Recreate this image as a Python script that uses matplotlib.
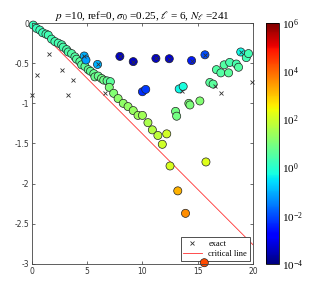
import numpy as np
import matplotlib
matplotlib.use("Agg")
import matplotlib.pyplot as plt
from matplotlib.colors import LogNorm

# computed eigenvalues: real part, imag part, log10 of condition value
re_pts = [0.12, 0.42, 0.72, 0.97, 1.27, 1.48, 1.78, 2.08, 2.38, 2.69, 2.83, 3.14, 3.29, 3.59,
          3.89, 4.04, 4.34, 4.5, 4.8, 5.1, 5.3, 5.6, 5.7, 6.0, 6.3, 6.5, 6.8, 7.1,
          7.0, 7.4, 7.8, 8.27, 8.7, 9.17, 9.6, 10.0, 10.5, 10.9, 11.4, 11.8,
          12.2, 12.5, 15.75, 13.2, 13.9, 15.6,
          4.73, 4.89, 5.94, 10.0, 10.3,
          7.96, 9.17, 11.22, 12.43, 14.45, 15.66,
          13.33, 13.69, 16.1, 16.4, 14.2, 14.3, 15.2, 13.0, 13.1,
          16.7, 17.1, 17.4, 17.8, 17.9, 18.5, 18.7, 18.9, 19.4, 19.6]
im_pts = [-0.025, -0.066, -0.087, -0.12, -0.137, -0.15, -0.2, -0.23, -0.25, -0.27, -0.30, -0.33, -0.36, -0.38,
          -0.42, -0.45, -0.48, -0.52, -0.54, -0.58, -0.6, -0.63, -0.67, -0.66, -0.69, -0.71, -0.72, -0.73,
          -0.8, -0.875, -0.94, -1.0, -1.04, -1.09, -1.15, -1.15, -1.24, -1.33, -1.40, -1.51,
          -1.38, -1.78, -1.73, -2.09, -2.37, -2.985,
          -0.41, -0.46, -0.515, -0.855, -0.826,
          -0.415, -0.48, -0.44, -0.444, -0.467, -0.395,
          -0.82, -0.79, -0.74, -0.76, -1.0, -1.02, -0.97, -1.10, -1.16,
          -0.58, -0.62, -0.52, -0.62, -0.49, -0.51, -0.55, -0.36, -0.43, -0.38]
log_cond = [0.2, 0.2, 0.25, 0.25, 0.3, 0.3, 0.3, 0.35, 0.35, 0.4, 0.4, 0.45, 0.45, 0.5,
            0.5, 0.55, 0.6, 0.6, 0.65, 0.7, 0.7, 0.75, 0.8, 0.8, 0.85, 0.85, 0.7, 0.6,
            1.0, 1.1, 1.2, 1.25, 1.3, 1.35, 1.4, 1.45, 1.55, 1.7, 1.8, 2.0,
            2.05, 2.1, 2.2, 3.2, 3.6, 4.3,
            -1.0, -1.2, -1.0, -2.3, -2.2,
            -3.3, -3.4, -3.3, -3.2, -2.5, -2.0,
            -0.3, -0.2, 0.6, 0.6, 1.0, 1.0, 1.1, 0.9, 0.9,
            0.5, 0.5, 0.5, 0.6, 0.4, 0.4, 0.5, -0.3, 0.3, 0.3]

# exact eigenvalues
re_exact = [0.0, 0.42, 1.57, 2.69, 3.29, 3.74, 4.73, 5.94, 6.6, 7.96, 9.17, 11.22, 12.43,
            13.6, 14.45, 15.66, 16.6, 17.07, 18.9, 19.9]
im_exact = [-0.9, -0.65, -0.39, -0.585, -0.89, -0.71, -0.41, -0.515, -0.875, -0.415, -0.48, -0.44, -0.444,
            -0.85, -0.467, -0.395, -0.78, -0.876, -0.36, -0.73]

crit_x = [0, 20]
crit_slope = -0.138

plt.rcParams['mathtext.fontset'] = 'stix'

fig = plt.figure(figsize=(3.13, 2.85), dpi=100)
ax = fig.add_axes([0.102, 0.074, 0.706, 0.845])
cax = fig.add_axes([0.85, 0.074, 0.041, 0.845])

cx = np.array(crit_x)
line, = ax.plot(cx, crit_slope * cx, color='#ff3030', lw=0.6, zorder=1)
sc = ax.scatter(re_pts, im_pts, c=10.0 ** np.array(log_cond), cmap='jet',
                norm=LogNorm(vmin=1e-4, vmax=1e6), s=34, edgecolors='#222222',
                linewidths=0.5, zorder=2, clip_on=False)
ex, = ax.plot(re_exact, im_exact, 'x', color='#333333', ms=3.5, mew=0.6,
              zorder=3, linestyle='none', clip_on=False)

ax.set_xlim(0, 20)
ax.set_ylim(-3, 0)
ax.set_xticks([0, 5, 10, 15, 20])
ax.set_yticks([0, -0.5, -1, -1.5, -2, -2.5, -3])
ax.set_yticklabels(['0', '-0.5', '-1', '-1.5', '-2', '-2.5', '-3'])
ax.tick_params(direction='in', length=2.5, width=0.5, labelsize=5.5,
               top=True, right=True, colors='#333333', pad=2)
for s in ax.spines.values():
    s.set_linewidth(0.6)
    s.set_color('#444444')

ax.set_title(r'$p$ =10, ref=0, $\sigma_0$ =0.25, $\ell$ = 6, $N_\ell$ =241',
             fontsize=8, family='Liberation Serif', pad=3)

leg = ax.legend([ex, line], ['exact', 'critical line'], loc='lower right',
                prop={'family': 'Liberation Serif', 'size': 6}, fancybox=False,
                edgecolor='#333333', framealpha=1, handlelength=2.2,
                borderpad=0.3, labelspacing=0.3, borderaxespad=0.4)
leg.get_frame().set_linewidth(0.6)
leg.set_zorder(1.5)

cb = fig.colorbar(sc, cax=cax)
cb.set_ticks([1e-4, 1e-2, 1e0, 1e2, 1e4, 1e6])
cb.ax.minorticks_off()
cb.ax.tick_params(labelsize=8, length=0, pad=2)
for t in cb.ax.get_yticklabels():
    t.set_family('Liberation Serif')
cb.outline.set_linewidth(0.6)

fig.savefig('out.png', dpi=100)
